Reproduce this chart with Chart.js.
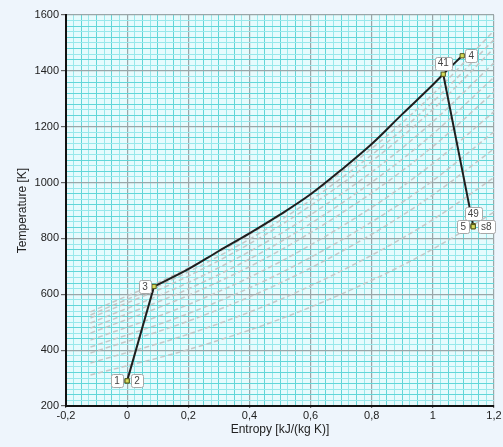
<!DOCTYPE html>
<html>
<head>
<meta charset="utf-8">
<script src="https://cdn.jsdelivr.net/npm/chart.js"></script>
<style>
  html, body { margin: 0; padding: 0; background: #eef5fc; }
  #wrap { width: 503px; height: 447px; }
</style>
</head>
<body>
<div id="wrap"><canvas id="ts" width="503" height="447"></canvas></div>
<script>
// state points of the cycle
const stateNames = ["1", "2", "3", "41", "4", "49", "5", "s8"];
const stateS = [0.0, 0.0, 0.088, 1.034, 1.096, 1.132, 1.132, 1.132];
const stateT = [290, 290, 628, 1388, 1454, 846, 842, 842];

// compression 1 -> 3
const compS = [0.0, 0.088];
const compT = [290, 628];

// heat addition 3 -> 41 -> 4
const heatS = [0.088, 0.2, 0.3, 0.4, 0.5, 0.6, 0.7, 0.8, 0.9, 1.0, 1.034, 1.096];
const heatT = [628, 690, 755, 818, 885, 958, 1045, 1138, 1245, 1350, 1388, 1454];

// expansion 41 -> 49
const expS = [1.034, 1.132];
const expT = [1388, 846];

// dashed isobars in the background
const isoS = [-0.12, 0.2, 0.5, 0.8, 1.0, 1.2];
const isoT = [
  [537, 694, 882, 1122, 1316, 1544],
  [526, 680, 864, 1099, 1289, 1512],
  [515, 665, 846, 1076, 1262, 1481],
  [497, 642, 816, 1038, 1218, 1429],
  [479, 619, 787, 1001, 1174, 1377],
  [461, 596, 757, 963, 1129, 1325],
  [436, 563, 716, 911, 1068, 1254],
  [411, 531, 675, 859, 1007, 1182],
  [390, 504, 640, 815, 956, 1121],
  [354, 457, 581, 740, 867, 1018],
  [311, 402, 511, 650, 762, 894]
];

// ticks
const xMin = -0.2, xMax = 1.2, xMajor = 0.2, xMinor = 0.025;
const yMin = 200, yMax = 1600, yMajor = 200, yMinor = 20;

const pts = (xs, ys) => xs.map((x, i) => ({ x: x, y: ys[i] }));

// where each state label sits relative to its point
const labelOffset = {
  "1": [-10, 0], "2": [10, 0], "3": [-9, 0], "41": [0, -11],
  "4": [9, 0], "49": [0, -12], "5": [-10, 0], "s8": [13, 0]
};

const datasets = [];
isoT.forEach(function (row) {
  datasets.push({
    data: pts(isoS, row),
    showLine: true,
    borderColor: "rgba(196,196,196,0.95)",
    borderWidth: 1.5,
    borderDash: [5, 3],
    pointRadius: 0,
    cubicInterpolationMode: "monotone",
    order: 10
  });
});
datasets.push({
  data: pts(compS, compT), showLine: true, borderColor: "#1e1e1e", borderWidth: 2, pointRadius: 0, order: 2
});
datasets.push({
  data: pts(heatS, heatT), showLine: true, borderColor: "#1e1e1e", borderWidth: 2,
  pointRadius: 0, cubicInterpolationMode: "monotone", order: 2
});
datasets.push({
  data: pts(expS, expT), showLine: true, borderColor: "#1e1e1e", borderWidth: 2, pointRadius: 0, order: 2
});
datasets.push({
  data: pts(stateS, stateT), showLine: false, pointStyle: "rect", pointRadius: 3,
  backgroundColor: "#d6dc5a", borderColor: "#55561e", borderWidth: 1, order: 1
});

function isMajor(v, step) {
  return Math.abs(Math.round(v / step) * step - v) < 1e-6;
}
function minorColor(v, minor) {
  const k = Math.round(v / minor);
  return k % 2 === 0 ? "#62d6d8" : "#98e8eb";
}

const areaBg = {
  id: "areaBg",
  beforeDraw(chart) {
    const a = chart.chartArea, c = chart.ctx;
    c.save();
    c.fillStyle = "#e6fbfd";
    c.fillRect(a.left, a.top, a.right - a.left, a.bottom - a.top);
    c.restore();
  }
};

const stateLabels = {
  id: "stateLabels",
  afterDatasetsDraw(chart) {
    const c = chart.ctx, xs = chart.scales.x, ys = chart.scales.y;
    c.save();
    c.font = "10px 'Liberation Sans', Arial, sans-serif";
    c.textAlign = "center";
    c.textBaseline = "middle";
    stateNames.forEach(function (name, i) {
      const off = labelOffset[name];
      const cx = xs.getPixelForValue(stateS[i]) + off[0];
      const cy = ys.getPixelForValue(stateT[i]) + off[1];
      const w = c.measureText(name).width + 6, h = 13;
      c.fillStyle = "#ffffff";
      c.strokeStyle = "#a8a8a8";
      c.lineWidth = 1;
      c.beginPath();
      c.roundRect(Math.round(cx - w / 2) + 0.5, Math.round(cy - h / 2) + 0.5, Math.round(w), h, 2);
      c.fill();
      c.stroke();
      c.fillStyle = "#444";
      c.fillText(name, cx, cy + 0.5);
    });
    c.restore();
  }
};

new Chart(document.getElementById("ts"), {
  type: "scatter",
  data: { datasets: datasets },
  plugins: [areaBg, stateLabels],
  options: {
    responsive: false,
    animation: false,
    devicePixelRatio: 1,
    layout: { padding: { top: 15, right: 9, left: 0, bottom: 0 } },
    plugins: { legend: { display: false }, tooltip: { enabled: false } },
    scales: {
      x: {
        type: "linear", min: xMin, max: xMax,
        afterFit(s) { s.height = 41; },
        border: { display: true, color: "#111", width: 2 },
        grid: {
          color: ctx => isMajor(ctx.tick.value, xMajor) ? "#9aa6a8" : minorColor(ctx.tick.value, xMinor),
          lineWidth: ctx => isMajor(ctx.tick.value, xMajor) ? 1.2 : 1,
          tickColor: ctx => isMajor(ctx.tick.value, xMajor) ? "#666" : "transparent",
          tickLength: 2
        },
        ticks: {
          stepSize: xMinor, autoSkip: false, maxRotation: 0, maxTicksLimit: 200, padding: 1,
          color: "#222", font: { family: "'Liberation Sans', Arial, sans-serif", size: 11 },
          callback: v => isMajor(v, xMajor) ? String(Math.round(v * 10) / 10).replace(".", ",") : ""
        },
        title: {
          display: true, text: "Entropy [kJ/(kg K)]", color: "#222",
          font: { family: "'Liberation Sans', Arial, sans-serif", size: 12 },
          padding: { top: 0, bottom: 10 }
        }
      },
      y: {
        type: "linear", min: yMin, max: yMax,
        afterFit(s) { s.width = 66; },
        border: { display: true, color: "#111", width: 2 },
        grid: {
          color: ctx => isMajor(ctx.tick.value, yMajor) ? "#9aa6a8" : minorColor(ctx.tick.value, yMinor),
          lineWidth: ctx => isMajor(ctx.tick.value, yMajor) ? 1.2 : 1,
          tickColor: ctx => isMajor(ctx.tick.value, yMajor) ? "#666" : "transparent",
          tickLength: 5
        },
        ticks: {
          stepSize: yMinor, autoSkip: false, maxTicksLimit: 200, padding: 2,
          color: "#222", font: { family: "'Liberation Sans', Arial, sans-serif", size: 11 },
          callback: v => isMajor(v, yMajor) ? String(v) : ""
        },
        title: {
          display: true, text: "Temperature [K]", color: "#222",
          font: { family: "'Liberation Sans', Arial, sans-serif", size: 12 },
          padding: { top: 15, bottom: 0 }
        }
      }
    }
  }
});
</script>
</body>
</html>
